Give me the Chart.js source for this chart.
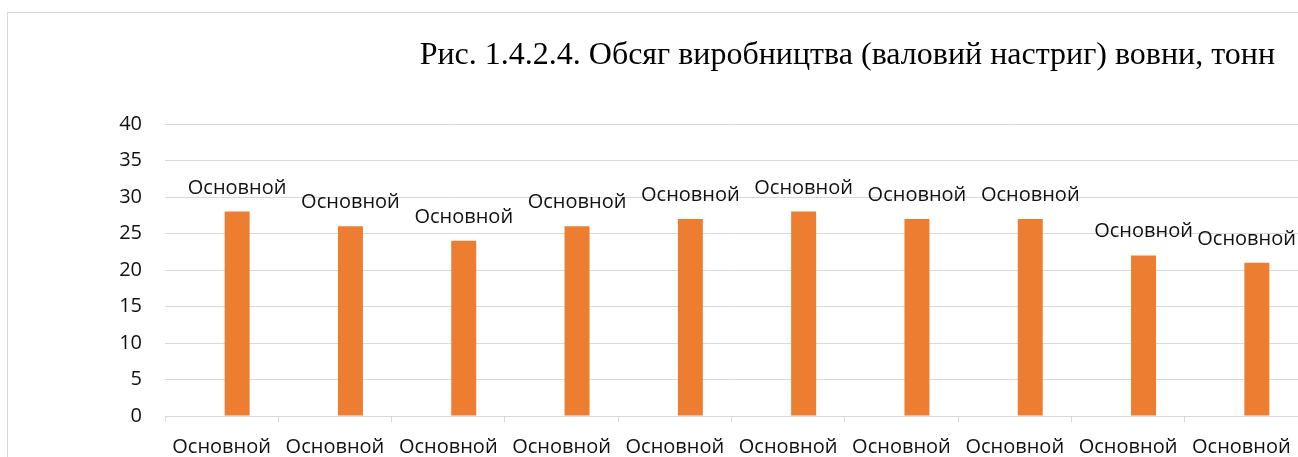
<!DOCTYPE html>
<html>
<head>
<meta charset="utf-8">
<script src="https://cdn.jsdelivr.net/npm/chart.js@4/dist/chart.umd.min.js"></script>
<style>
  html, body { margin: 0; padding: 0; background: #fff; overflow: hidden; }
  #frame { position: absolute; left: 7px; top: 12px; width: 1500px; height: 600px; border: 1px solid #d9d9d9; }
  #wrap { position: absolute; left: 0; top: 0; width: 1400px; height: 500px; }
  #title { position: absolute; right: 23px; top: 35px; font-family: "Liberation Serif", "DejaVu Serif", serif; font-size: 32px; color: #000; white-space: nowrap; }
</style>
</head>
<body>
<div id="frame"></div>
<div id="wrap"><canvas id="chart" width="1400" height="500"></canvas></div>
<div id="title">Рис. 1.4.2.4. Обсяг виробництва (валовий настриг) вовни, тонн</div>
<script>
// данные с рисунка
var categories = ["Основной", "Основной", "Основной", "Основной", "Основной", "Основной", "Основной", "Основной", "Основной", "Основной"];
var hiddenValues = [null, null, null, null, null, null, null, null, null, null]; // пустой ряд слева
var woolValues = [28, 26, 24, 26, 27, 28, 27, 27, 22, 21];
var pointLabel = "Основной";
var yTicks = [0, 5, 10, 15, 20, 25, 30, 35, 40];

var textColor = "#111";
var fontFamily = "'Open Sans', sans-serif";

// подписи над столбцами
var barLabels = {
  id: "barLabels",
  afterDatasetsDraw: function (chart) {
    var ctx = chart.ctx;
    var meta = chart.getDatasetMeta(1);
    ctx.save();
    ctx.font = "20px " + fontFamily;
    ctx.fillStyle = textColor;
    ctx.textAlign = "center";
    ctx.textBaseline = "alphabetic";
    meta.data.forEach(function (bar) {
      var w = ctx.measureText(pointLabel).width;
      var x = Math.min(bar.x, 1296 - w / 2);
      ctx.fillText(pointLabel, x, bar.y - 18);
    });
    ctx.restore();
  }
};

var ctx = document.getElementById("chart").getContext("2d");
var chart = new Chart(ctx, {
  type: "bar",
  data: {
    labels: categories,
    datasets: [
      {
        label: "",
        data: hiddenValues,
        backgroundColor: "rgba(0,0,0,0)"
      },
      {
        label: "Обсяг",
        data: woolValues,
        backgroundColor: "#ED7D31",
        borderWidth: 0
      }
    ]
  },
  options: {
    responsive: false,
    animation: false,
    categoryPercentage: 0.547,
    barPercentage: 0.806,
    layout: { padding: { left: 0, top: 124, right: 102, bottom: 0 } },
    plugins: {
      legend: { display: false },
      tooltip: { enabled: false },
      title: { display: false }
    },
    scales: {
      x: {
        grid: { drawOnChartArea: false, drawTicks: true, tickLength: 6, color: "#d9d9d9" },
        border: { color: "#d9d9d9", width: 1 },
        ticks: { color: textColor, font: { family: fontFamily, size: 20 }, padding: 13, maxRotation: 0, autoSkip: false },
        afterFit: function (scale) { scale.height = 84; }
      },
      y: {
        min: 0,
        max: 40,
        afterBuildTicks: function (scale) {
          scale.ticks = yTicks.map(function (v) { return { value: v }; });
        },
        grid: { color: "#d9d9d9", drawTicks: false },
        border: { display: false },
        ticks: { color: textColor, font: { family: fontFamily, size: 20 }, padding: 23 },
        afterFit: function (scale) { scale.width = 165; }
      }
    }
  },
  plugins: [barLabels]
});
</script>
</body>
</html>
